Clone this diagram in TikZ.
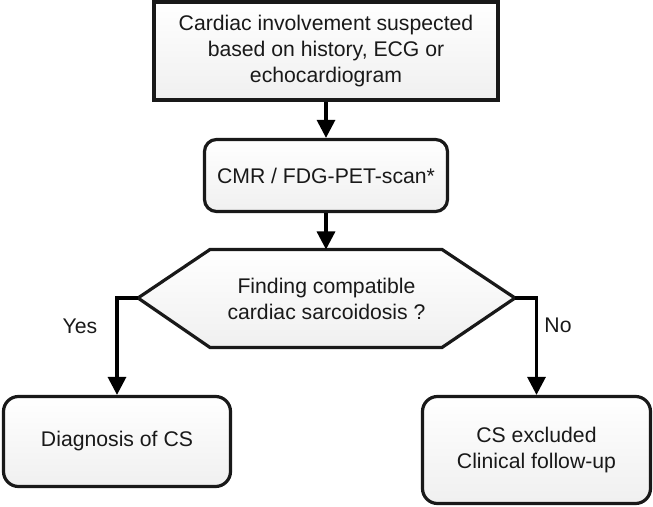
\documentclass[tikz,border=0pt]{standalone}
\usepackage{fontspec}
\setmainfont{Liberation Sans}
\usepackage{tikz}
\usetikzlibrary{calc}
\usetikzlibrary{positioning}
\usetikzlibrary{arrows.meta}
\tikzset{
  flownode/.style = {align=center, inner sep=0pt, text centered, text=black!90,
    draw=black!90, line width=1.6pt, top color=white, bottom color=black!6,
    font=\fontsize{10.6}{13}\selectfont},
  sbox/.style = {flownode, rectangle},% bloc du haut, coins droits
  rbox/.style = {flownode, rectangle, rounded corners=6pt},% examen
  obox/.style = {flownode, rectangle, rounded corners=7.5pt},% issue
  decision/.style = {draw=black!90, line width=1.6pt, line join=miter, top color=white, bottom color=black!6},
  qtext/.style = {align=center, inner sep=0pt, text=black!90, font=\fontsize{10.6}{13}\selectfont},
  lbl/.style = {inner sep=0pt, text=black!90, font=\fontsize{10.6}{13}\selectfont},
}

\begin{document}
\begin{tikzpicture}[x=0.5pt, y=-0.5pt, >={Triangle[length=9pt,width=9pt]}, line width=1.6pt]
\useasboundingbox (0,0) rectangle (653,507);
\node [sbox, minimum width=172pt, minimum height=49pt] (susp) at (326,51)
  {Cardiac involvement suspected\\based on history, ECG or\\echocardiogram};
\node [rbox, minimum width=121.5pt, minimum height=36pt] (scan) at (326,175.5)
  {CMR / FDG-PET-scan*};
% losange hexagonal
\draw [decision] (138,298) -- (210,249.5) -- (442,249.5) -- (515,298)
  -- (442,347.5) -- (210,347.5) -- cycle;
\coordinate (qtop) at (326,249.5);
\coordinate (qleft) at (138,298);
\coordinate (qright) at (515,298);
\node [qtext] (find) at (326.5,299) {Finding compatible\\cardiac sarcoidosis ?};
\node [obox, minimum width=113.5pt, minimum height=45pt] (diag) at (117,441.5)
  {Diagnosis of CS};
\node [obox, minimum width=114pt, minimum height=53.5pt] (excl) at (536.5,450)
  {CS excluded\\Clinical follow-up};
\node [lbl] (yes) at (80,326) {Yes};
\node [lbl] (no) at (558,325) {No};
\draw [->] (susp.south) -- (scan.north);
\draw [->] (scan.south) -- (qtop);
\draw [->] (qleft) -| (diag.north);
\draw [->] (qright) -| (excl.north);
\end{tikzpicture}
\end{document}
